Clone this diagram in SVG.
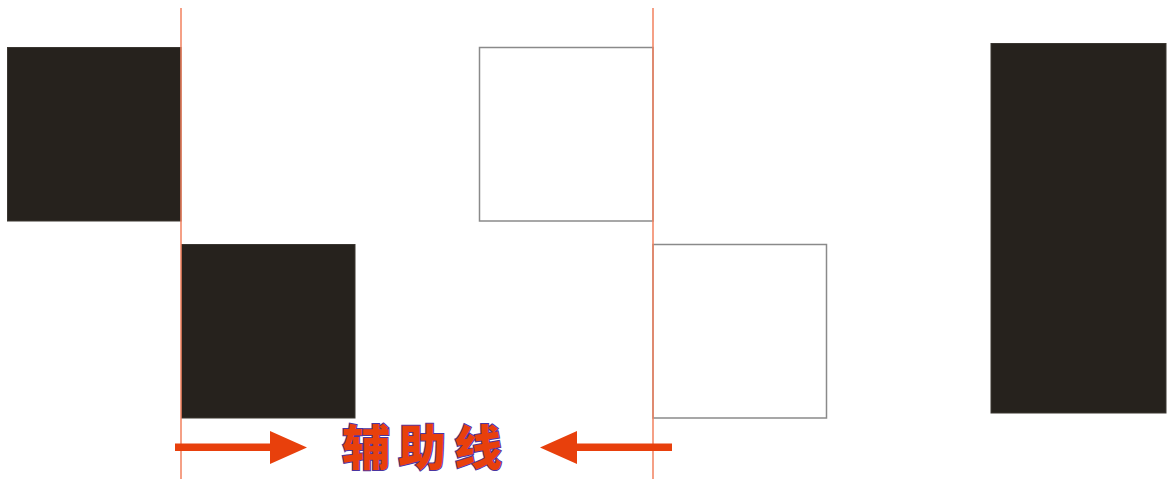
<svg xmlns="http://www.w3.org/2000/svg" width="1168" height="479" viewBox="0 0 1168 479">
<style>
.solid{fill:#26221d;stroke:#3a3631;stroke-width:1}
.outline{fill:#ffffff;stroke:#8a8a8a;stroke-width:1.5}
.guide{stroke:#f2805e;stroke-width:1.5;fill:none}
.arrow{fill:#e8400c}
.label{font-family:"Noto Sans CJK SC","Noto Sans CJK JP",sans-serif;font-weight:900;font-size:48px;fill:#e8400c;stroke:#4b35a0;stroke-width:2;paint-order:stroke;letter-spacing:8px}
</style>
<rect width="1168" height="479" fill="#ffffff"/>
<g id="square-a"><rect class="solid" x="7.5" y="47.5" width="173.5" height="173.5"/></g>
<g id="square-b"><rect class="solid" x="181.5" y="244.5" width="173.5" height="173.5"/></g>
<g id="square-c"><rect class="outline" x="479.5" y="47.5" width="173.5" height="173.5"/></g>
<g id="square-d"><rect class="outline" x="653" y="244.5" width="173.5" height="173.5"/></g>
<g id="tall-rect"><rect class="solid" x="991" y="43.5" width="175" height="369.5"/></g>
<g id="connectors">
<line class="guide" x1="181" y1="8" x2="181" y2="479"/>
<line class="guide" x1="653" y1="8" x2="653" y2="479"/>
<polygon class="arrow" points="175,443.5 270,443.5 270,431 307,447.5 270,464 270,451 175,451"/>
<polygon class="arrow" points="672,443.5 577,443.5 577,431 540,447.5 577,464 577,451 672,451"/>
</g>
<g id="label"><text class="label" x="342" y="465">辅助线</text></g>
</svg>
